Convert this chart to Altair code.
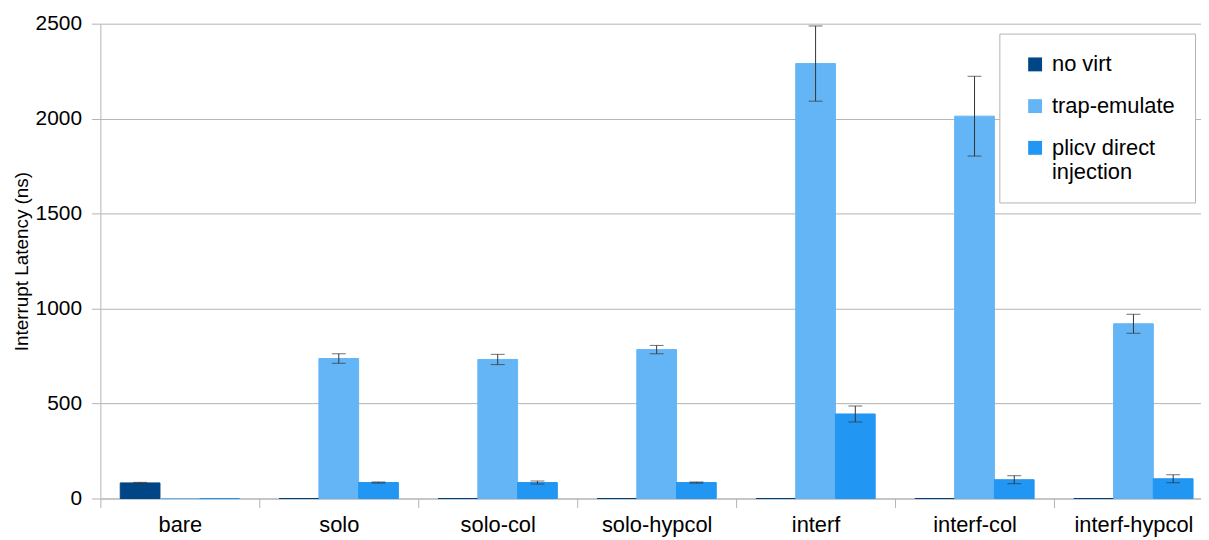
import altair as alt
import pandas as pd

categories = ["bare", "solo", "solo-col", "solo-hypcol", "interf", "interf-col", "interf-hypcol"]
series = ["no virt", "trap-emulate", "plicv direct injection"]
colors = ["#004586", "#64b5f6", "#2196f3"]

no_virt = [82, 0, 0, 0, 0, 0, 0]
no_virt_err = [3, 0, 0, 0, 0, 0, 0]
trap_emulate = [0, 737, 732, 784, 2290, 2013, 920]
trap_emulate_err = [0, 25, 27, 22, 198, 210, 50]
plicv = [0, 84, 84, 84, 445, 99, 104]
plicv_err = [0, 3, 8, 3, 42, 21, 21]

rows = []
for name, vals, errs in [
    (series[0], no_virt, no_virt_err),
    (series[1], trap_emulate, trap_emulate_err),
    (series[2], plicv, plicv_err),
]:
    for c, v, e in zip(categories, vals, errs):
        rows.append({"category": c, "series": name, "value": v, "lo": v - e, "hi": v + e, "err": e})
df = pd.DataFrame(rows)

font = "Liberation Sans"
grey = "#b3b3b3"

x = alt.X("category:N", sort=categories, title=None,
          scale=alt.Scale(range=[0, 1120], paddingInner=0, paddingOuter=0),
          axis=alt.Axis(labelAngle=0, labelFontSize=22, labelFont=font, labelColor="#000000",
                        tickBand="extent", tickSize=9, tickColor=grey, domainColor=grey,
                        labelPadding=7, grid=False))
xo = alt.XOffset("series:N", sort=series,
                 scale=alt.Scale(paddingInner=0, paddingOuter=0.5))
color = alt.Color("series:N", sort=series, title=None,
                  scale=alt.Scale(domain=series, range=colors),
                  legend=alt.Legend(orient="none", legendX=905, legendY=10,
                                    symbolType="square", symbolSize=196, symbolStrokeWidth=0,
                                    symbolOffset=5,
                                    labelFontSize=22, labelFont=font, labelColor="#000000",
                                    labelExpr="datum.label == 'plicv direct injection' ? ['plicv direct', 'injection'] : datum.label",
                                    labelOffset=6, rowPadding=20, padding=20,
                                    strokeColor=grey, fillColor="#ffffff",
                                    labelLimit=300))

bars = alt.Chart(df).mark_bar(strokeWidth=1).encode(
    x=x,
    xOffset=xo,
    y=alt.Y("value:Q", title="Interrupt Latency (ns)",
            scale=alt.Scale(domain=[0, 2500], nice=False),
            axis=alt.Axis(values=[0, 500, 1000, 1500, 2000, 2500], format="d", labelFontSize=21, labelFont=font,
                          labelColor="#000000", titleFontSize=19, titleFont=font, titleFontWeight="normal",
                          titleColor="#000000", titlePadding=4, tickSize=9, tickColor=grey,
                          domainColor=grey, gridColor=grey, labelPadding=10)),
    color=color,
    stroke=alt.Stroke("series:N", sort=series, scale=alt.Scale(domain=series, range=colors), legend=None),
)

err_df = df[df["err"] > 0]
rule = alt.Chart(err_df).mark_rule(color="#333333", strokeWidth=1).encode(
    x=x, xOffset=xo,
    y="lo:Q", y2="hi:Q",
)
cap_lo = alt.Chart(err_df).mark_tick(color="#333333", thickness=1, size=14).encode(
    x=x, xOffset=xo, y="lo:Q",
)
cap_hi = alt.Chart(err_df).mark_tick(color="#333333", thickness=1, size=14).encode(
    x=x, xOffset=xo, y="hi:Q",
)

chart = alt.layer(bars, rule, cap_lo, cap_hi).properties(
    width=1100, height=478,
    autosize=alt.AutoSizeParams(type="none"),
    padding={"left": 93, "top": 14, "right": 8, "bottom": 40},
).configure_view(stroke=None)

chart.save("out.html", embed_options={"renderer": "svg", "actions": False})
